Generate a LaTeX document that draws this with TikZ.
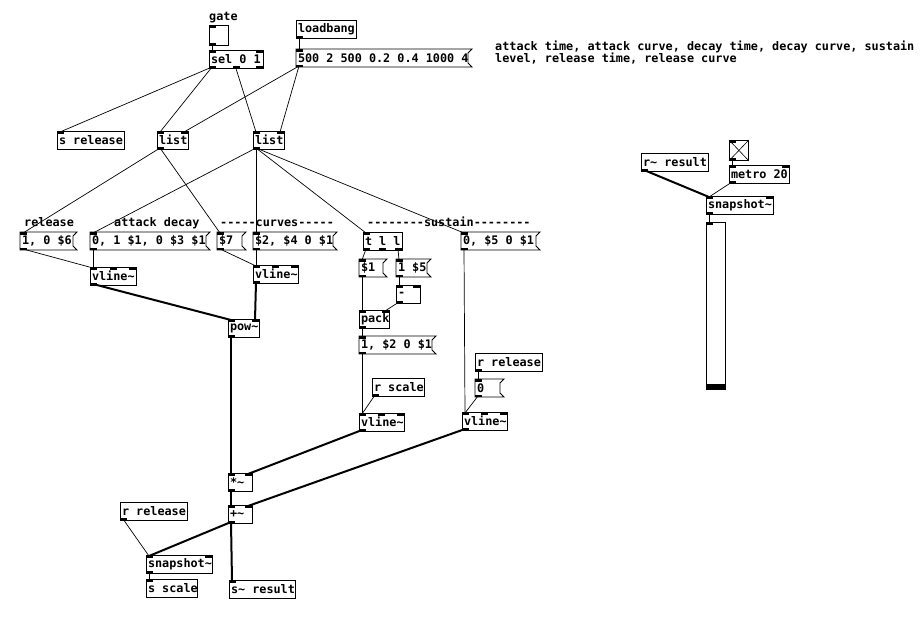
\documentclass[tikz,border=0pt]{standalone}
\usepackage{fontspec}
\setmonofont{DejaVu Sans Mono}[WordSpace={1,0,0}]
\usetikzlibrary{calc}

\tikzset{
  pdtext/.style={font=\ttfamily\bfseries\fontsize{11.8}{13}\selectfont},
  box/.style={pdtext, anchor=north west, inner xsep=2pt, inner ysep=0pt,
    minimum height=18pt, outer sep=0pt},
  obj/.style={box, draw, line width=0.8pt},
  msg/.style={box},
  note/.style={pdtext, anchor=base west, inner sep=0pt, align=left},
  cord/.style={line width=0.7pt},
  sig/.style={line width=2pt},
}

% inlets / outlets: x y w h nin nout
\newcommand\pdports[6]{%
  \ifnum#5>0 \foreach \i in {1,...,#5}{%
    \pgfmathsetmacro\px{#1+(\i-1)*(#3-7)/max(#5-1,1)}%
    \fill (\px,#2) rectangle ++(7,2.5);}\fi
  \ifnum#6>0 \foreach \i in {1,...,#6}{%
    \pgfmathsetmacro\px{#1+(\i-1)*(#3-7)/max(#6-1,1)}%
    \fill (\px,#2+#4) rectangle ++(7,-2.5);}\fi}

% object box: name x y w text nin nout
\newcommand\pdobj[7]{%
  \pgfmathsetmacro\tw{#4-4}%
  \node[obj] (#1) at (#2,#3) {\makebox[\tw pt][l]{#5}};
  \pdports{#2}{#3}{#4}{18}{#6}{#7}}

% message box with flag: name x y w text
\newcommand\pdmsg[5]{%
  \pgfmathsetmacro\tw{#4-4}%
  \node[msg] (#1) at (#2,#3) {\makebox[\tw pt][l]{#5}};
  \draw[line width=0.8pt] (#1.north west) -- ++(#4+4,0) -- ++(-4,4) -- ++(0,10)
    -- ++(4,4) -- (#1.south west) -- cycle;
  \pdports{#2}{#3}{#4}{18}{1}{1}}

% connection: style from outlet-offset to inlet-offset
\newcommand\wire[5]{%
  \draw[#1] ($(#2.south west)+(#3+3,-1)$) -- ($(#4.north west)+(#5+3,1)$);}

\begin{document}
\begin{tikzpicture}[x=1pt, y=-1pt]
\useasboundingbox (0,0) rectangle (923,624);

% top
\node[note] at (209,20) {gate};
\node[draw, line width=0.8pt, minimum width=19pt, minimum height=20pt, anchor=north west, inner sep=0pt] (gate) at (209,25) {};
\pdports{209}{25}{19}{20}{1}{1}
\pdobj{sel}{209}{50}{54}{sel 0 1}{2}{3}
\pdobj{lb}{296}{20}{60}{loadbang}{0}{1}
\pdmsg{init}{296}{49}{172}{500 2 500 0.2 0.4 1000 4}
\node[note] at (495,62) {attack time, attack curve, decay time, decay curve, sustain\\[-1pt]level, release time, release curve};

\pdobj{srel}{57}{131}{67}{s release}{1}{0}
\pdobj{lista}{157}{131}{31}{list}{2}{1}
\pdobj{listb}{253}{131}{31}{list}{2}{1}

% labels
\node[note] at (24,226) {release};
\node[note] at (114,226) {attack decay};
\node[note] at (220,226) {-----curves-----};
\node[note] at (367,226) {--------sustain--------};

% envelope segments
\pdmsg{mrel}{20}{232}{53}{1, 0 \$6}
\pdmsg{mad}{90}{232}{116}{0, 1 \$1, 0 \$3 \$1}
\pdmsg{mc7}{217}{232}{25}{\$7}
\pdmsg{mcad}{253}{232}{80}{\$2, \$4 0 \$1}
\pdobj{tll}{363}{232}{39}{t l l}{1}{3}
\pdmsg{msus}{461}{232}{75}{0, \$5 0 \$1}

\pdobj{vla}{90}{267}{46}{vline\textasciitilde}{3}{1}
\pdobj{vlb}{253}{265}{45}{vline\textasciitilde}{3}{1}
\pdmsg{mone}{359}{259}{24}{\$1}
\pdmsg{mfive}{396}{259}{31}{1 \$5}
\pdobj{minus}{396}{285}{24}{-}{2}{1}
\pdobj{pk}{359}{310}{30}{pack}{2}{1}
\pdmsg{mpk}{359}{336}{73}{1, \$2 0 \$1}
\pdobj{rscale}{372}{378}{52}{r scale}{0}{1}
\pdobj{vlc}{359}{413}{45}{vline\textasciitilde}{3}{1}
\pdobj{rrela}{475}{353}{67}{r release}{0}{1}
\pdmsg{mzero}{475}{379}{25}{0}
\pdobj{vld}{462}{412}{45}{vline\textasciitilde}{3}{1}
\pdobj{pw}{228}{319}{31}{pow\textasciitilde}{2}{1}
\pdobj{mul}{228}{473}{24}{*\textasciitilde}{2}{1}
\pdobj{add}{228}{505}{24}{+\textasciitilde}{2}{1}
\pdobj{rrelb}{120}{502}{67}{r release}{0}{1}
\pdobj{snap}{146}{555}{66}{snapshot\textasciitilde}{2}{1}
\pdobj{sscale}{146}{579}{51}{s scale}{1}{0}
\pdobj{sres}{229}{580}{66}{s\textasciitilde{} result}{1}{0}

% monitor
\node[draw, line width=0.8pt, minimum width=19pt, minimum height=20pt, anchor=north west, inner sep=0pt] (tgl) at (729,140) {};
\draw[line width=0.6pt] (tgl.north west) -- (tgl.south east) (tgl.north east) -- (tgl.south west);
\pdports{729}{140}{19}{20}{1}{1}
\pdobj{rres}{641}{153}{67}{r\textasciitilde{} result}{0}{1}
\pdobj{met}{729}{165}{60}{metro 20}{2}{1}
\pdobj{snapb}{706}{196}{67}{snapshot\textasciitilde}{2}{1}
\node[draw, line width=0.8pt, minimum width=19pt, minimum height=167pt, anchor=north west, inner sep=0pt] (sld) at (706,222) {};
\pdports{706}{222}{19}{167}{1}{0}
\fill (706,384) rectangle (725,389);

% control connections
\wire{cord}{gate}{0}{sel}{0}
\wire{cord}{sel}{0}{srel}{0}
\wire{cord}{sel}{0}{lista}{0}
\wire{cord}{sel}{23.5}{listb}{0}
\wire{cord}{lb}{0}{init}{0}
\wire{cord}{init}{0}{lista}{24}
\wire{cord}{init}{0}{listb}{24}
\wire{cord}{lista}{0}{mrel}{0}
\wire{cord}{lista}{0}{mc7}{0}
\wire{cord}{listb}{0}{mad}{0}
\wire{cord}{listb}{0}{mcad}{0}
\wire{cord}{listb}{0}{tll}{0}
\wire{cord}{listb}{0}{msus}{0}
\wire{cord}{mrel}{0}{vla}{0}
\wire{cord}{mad}{0}{vla}{0}
\wire{cord}{mc7}{0}{vlb}{0}
\wire{cord}{mcad}{0}{vlb}{0}
\wire{cord}{tll}{0}{mone}{0}
\wire{cord}{tll}{32}{mfive}{0}
\wire{cord}{mfive}{0}{minus}{0}
\wire{cord}{minus}{0}{pk}{23}
\wire{cord}{mone}{0}{pk}{0}
\wire{cord}{pk}{0}{mpk}{0}
\wire{cord}{mpk}{0}{vlc}{0}
\wire{cord}{rscale}{0}{vlc}{0}
\wire{cord}{msus}{0}{vld}{0}
\wire{cord}{rrela}{0}{mzero}{0}
\wire{cord}{mzero}{0}{vld}{0}
\wire{cord}{rrelb}{0}{snap}{0}
\wire{cord}{snap}{0}{sscale}{0}
\wire{cord}{tgl}{0}{met}{0}
\wire{cord}{met}{0}{snapb}{0}
\wire{cord}{snapb}{0}{sld}{0}

% signal connections
\wire{sig}{vla}{0}{pw}{0}
\wire{sig}{vlb}{0}{pw}{24}
\wire{sig}{pw}{0}{mul}{0}
\wire{sig}{vlc}{0}{mul}{17}
\wire{sig}{mul}{0}{add}{0}
\wire{sig}{vld}{0}{add}{17}
\wire{sig}{add}{0}{snap}{0}
\wire{sig}{add}{0}{sres}{0}
\wire{sig}{rres}{0}{snapb}{0}
\end{tikzpicture}
\end{document}
